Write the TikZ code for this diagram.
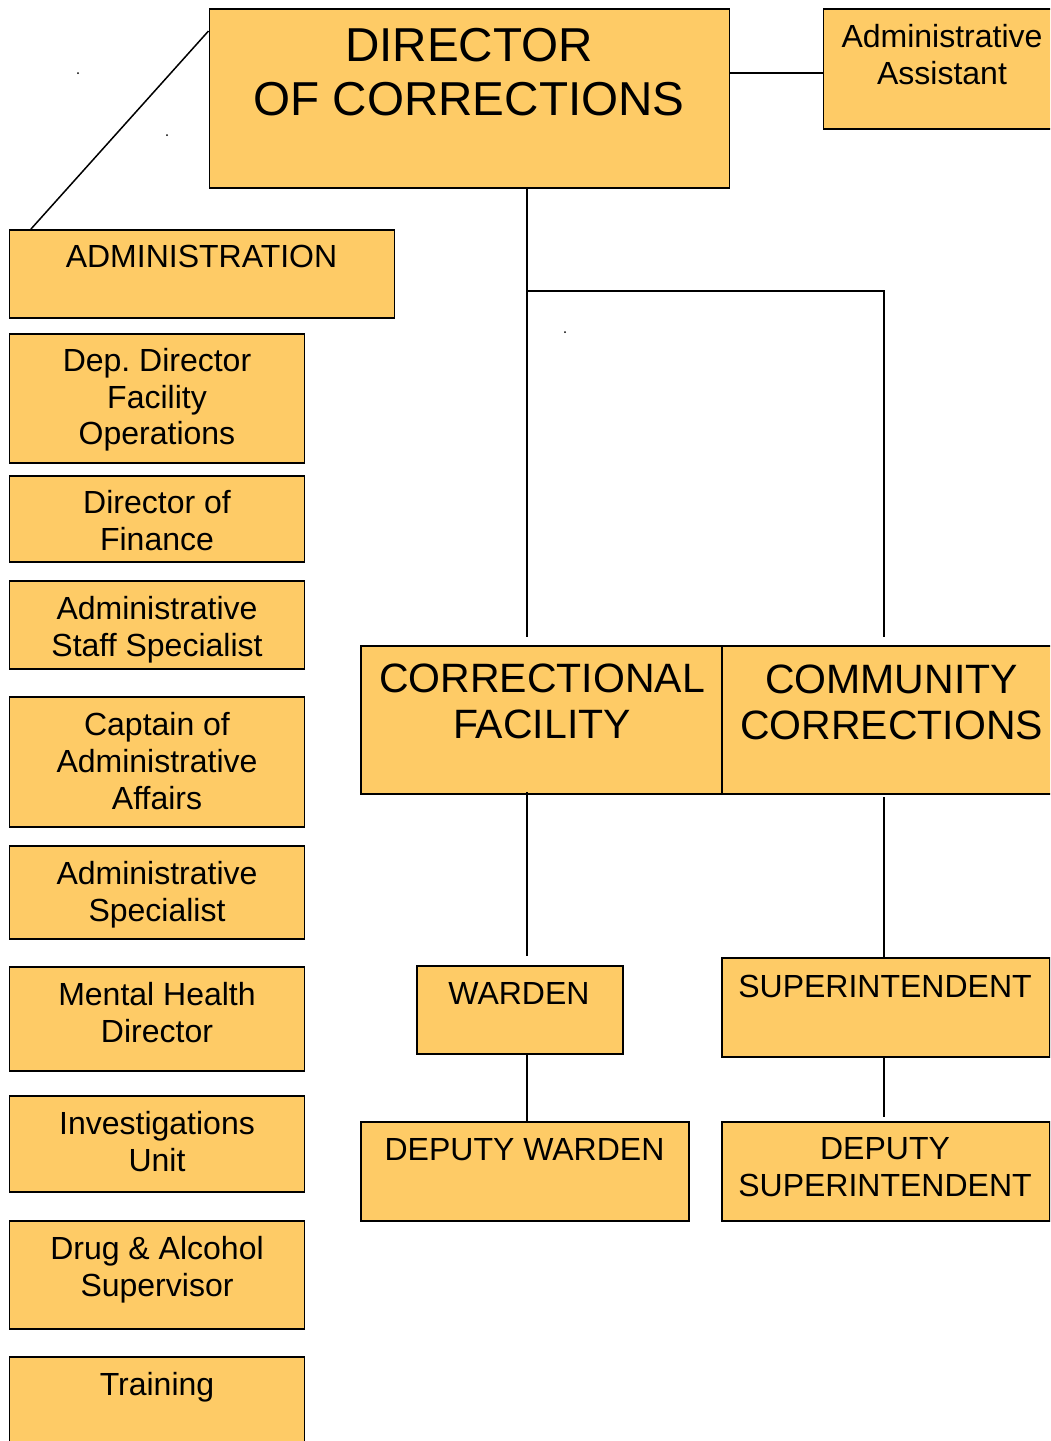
\documentclass[tikz,border=0pt]{standalone}
\usepackage{fontspec}
\setmainfont{Liberation Sans}
\definecolor{boxfill}{RGB}{254,203,102}
\begin{document}
\begin{tikzpicture}[x=1pt,y=-1pt,
  box/.style={draw=black, line width=1.8pt, fill=boxfill, inner sep=0pt, anchor=north west},
  txt/.style={inner sep=0pt, align=center, anchor=north, font=\fontsize{32}{36.8}\selectfont},
  bigtxt/.style={txt, font=\fontsize{47.6}{54.5}\selectfont},
  midtxt/.style={txt, font=\fontsize{41}{46}\selectfont},
  wire/.style={draw=black, line width=1.5pt}]
\useasboundingbox (0,0) rectangle (1050,1441);
\clip (0,0) rectangle (1050,1441);
\fill[white] (0,0) rectangle (1050,1441);

% top level
\node[box, minimum width=520pt, minimum height=179pt] (dir) at (208.5,8) {};
\node[bigtxt] (dirT) at (469,28) {DIRECTOR\\OF CORRECTIONS};
\node[box, minimum width=240pt, minimum height=120pt] (aa) at (822.5,8) {};
\node[txt] (aaT) at (942,24) {Administrative\\Assistant};

% administration column
\node[box, minimum width=385pt, minimum height=88pt] (adm) at (8.5,229) {};
\node[txt] (admT) at (201.5,245) {ADMINISTRATION};
\node[box, minimum width=295pt, minimum height=129pt] (dep) at (8.5,333) {};
\node[txt] (depT) at (157,348) {Dep.\ Director\\Facility\\Operations};
\node[box, minimum width=295pt, minimum height=86pt] (fin) at (8.5,475) {};
\node[txt] (finT) at (157,490) {Director of\\Finance};
\node[box, minimum width=295pt, minimum height=88pt] (ass) at (8.5,580) {};
\node[txt] (assT) at (157,596) {Administrative\\Staff Specialist};
\node[box, minimum width=295pt, minimum height=130pt] (cap) at (8.5,696) {};
\node[txt] (capT) at (157,712) {Captain of\\Administrative\\Affairs};
\node[box, minimum width=295pt, minimum height=93pt] (asp) at (8.5,845) {};
\node[txt] (aspT) at (157,861) {Administrative\\Specialist};
\node[box, minimum width=295pt, minimum height=104pt] (mhd) at (8.5,966) {};
\node[txt] (mhdT) at (157,982) {Mental Health\\Director};
\node[box, minimum width=295pt, minimum height=96pt] (inv) at (8.5,1095) {};
\node[txt] (invT) at (157,1111) {Investigations\\Unit};
\node[box, minimum width=295pt, minimum height=108pt] (dru) at (8.5,1220) {};
\node[txt] (druT) at (157,1236) {Drug \& Alcohol\\Supervisor};
\node[box, minimum width=295pt, minimum height=110pt] (trn) at (8.5,1356) {};
\node[txt] (trnT) at (157,1372) {Training};

% operations branches
\node[box, minimum width=361pt, minimum height=148pt] (cf) at (360,645) {};
\node[midtxt] (cfT) at (542,664) {CORRECTIONAL\\FACILITY};
\node[box, minimum width=341pt, minimum height=148pt] (cc) at (721,645) {};
\node[midtxt] (ccT) at (891.5,665) {COMMUNITY\\CORRECTIONS};

\node[box, minimum width=206pt, minimum height=88pt] (war) at (416,965) {};
\node[txt] (warT) at (519,982) {WARDEN};
\node[box, minimum width=328pt, minimum height=99pt] (sup) at (721,957) {};
\node[txt] (supT) at (885,975) {SUPERINTENDENT};
\node[box, minimum width=328pt, minimum height=99pt] (dwa) at (360,1121) {};
\node[txt] (dwaT) at (524.5,1138) {DEPUTY WARDEN};
\node[box, minimum width=328pt, minimum height=99pt] (dsu) at (721,1121) {};
\node[txt] (dsuT) at (885,1137) {DEPUTY\\SUPERINTENDENT};

% junction points of the connectors
\coordinate (j1) at (527,291);
\coordinate (j2) at (884,291);
\coordinate (cfIn) at (527,637);
\coordinate (ccIn) at (884,637);
\coordinate (cfOut) at (527,792);
\coordinate (ccOut) at (884,797);
\coordinate (warIn) at (527,956);
\coordinate (warOut) at (527,1055);
\coordinate (supOut) at (884,1056);
\coordinate (dsuIn) at (884,1117);

% connectors
\draw[wire] (dir.east |- 0,73) -- (aa.west |- 0,73);
\draw[wire] (dir.west |- 0,31) -- (adm.north -| 31,0);
\draw[wire] (dir.south -| j1) -- (cfIn);
\draw[wire] (j1) -- (j2) -- (ccIn);
\draw[wire] (cfOut) -- (warIn);
\draw[wire] (ccOut) -- (sup.north -| ccOut);
\draw[wire] (warOut) -- (dwa.north -| warOut);
\draw[wire] (supOut) -- (dsuIn);

% stray marks
\fill (78,73) circle (1pt);
\fill (167,135) circle (1pt);
\fill (565,332) circle (1pt);
\end{tikzpicture}
\end{document}
